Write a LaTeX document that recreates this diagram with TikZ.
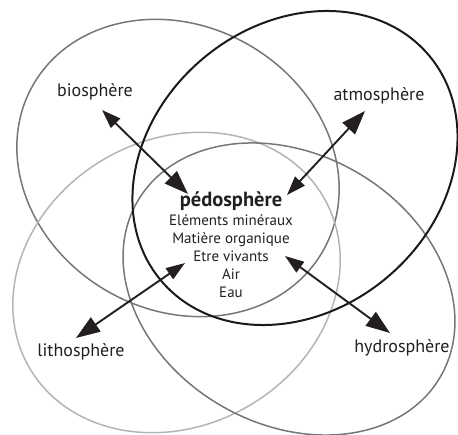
\documentclass[tikz,border=0pt]{standalone}
\usepackage{fontspec}
\setmainfont{PT Sans}
\usetikzlibrary{arrows.meta}
\definecolor{midgray}{HTML}{767676}
\definecolor{lightgray}{HTML}{B4B4B4}
\definecolor{darkline}{HTML}{1A1A1A}
\definecolor{textcol}{HTML}{231F20}
\tikzset{
  sphere/.style={line width=1.5pt},
  label/.style={font=\fontsize{18}{20}\selectfont, text=textcol, anchor=base, inner sep=0pt},
  link/.style={line width=1.9pt, draw=textcol,
    {Triangle[length=19pt,width=13pt]}-{Triangle[length=24pt,width=17pt]}},
}
\begin{document}
\begin{tikzpicture}[x=1pt,y=1pt]
\useasboundingbox (0,0) rectangle (458,434);
\begin{scope}
\clip (0,0) rectangle (458,434);
% the four spheres
\draw[sphere, draw=midgray, rotate around={-30:(178,266)}] (178,266) ellipse [x radius=167, y radius=142];
\draw[sphere, draw=lightgray, rotate around={30:(176.5,151.5)}] (176.5,151.5) ellipse [x radius=170, y radius=143];
\draw[sphere, draw=midgray, rotate around={-30:(289,145)}] (289,145) ellipse [x radius=175, y radius=135];
\draw[line width=2pt, draw=darkline, rotate around={40:(295,266)}] (295,266) ellipse [x radius=175, y radius=143];
\end{scope}

% labels of the outer spheres
\node[label] (bio) at (95,337) {biosphère};
\node[label] (atm) at (379,333) {atmosphère};
\node[label] (lith) at (81,77) {lithosphère};
\node[label] (hyd) at (402,81) {hydrosphère};

% the soil at the centre
\node[font=\fontsize{20.5}{20}\selectfont\bfseries, text=textcol, anchor=base, inner sep=0pt] (pedo) at (231,227) {pédosphère};
\node[font=\fontsize{15}{18}\selectfont, text=textcol, anchor=north, align=center, inner sep=0pt]
  (comp) at (231,219) {Eléments minéraux\\Matière organique\\Etre vivants\\Air\\Eau};

% arrow end points
\coordinate (bioA) at (102,324);
\coordinate (bioB) at (188,240);
\coordinate (atmA) at (287,239);
\coordinate (atmB) at (365,323);
\coordinate (lithA) at (185,171);
\coordinate (lithB) at (76,96);
\coordinate (hydA) at (285,178);
\coordinate (hydB) at (390,101);

\draw[link] (bioA) -- (bioB);
\draw[link] (atmA) -- (atmB);
\draw[link] (lithA) -- (lithB);
\draw[link] (hydA) -- (hydB);
\end{tikzpicture}
\end{document}
